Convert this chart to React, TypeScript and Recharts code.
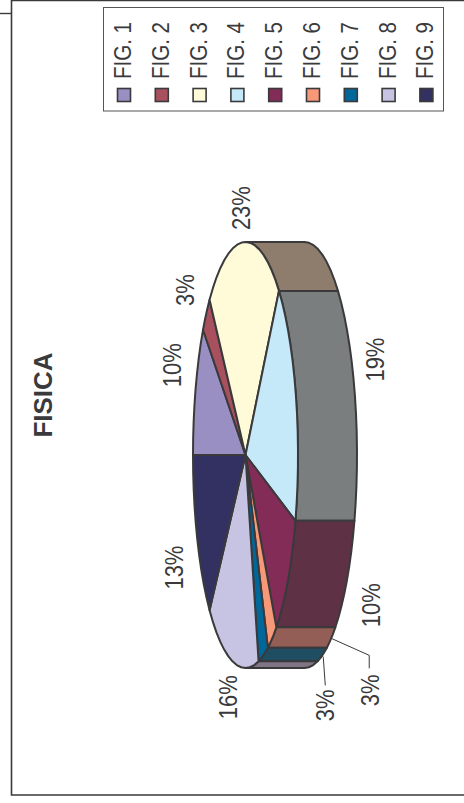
import { Pie, PieChart } from 'recharts';

const FIGURES = ['FIG. 1', 'FIG. 2', 'FIG. 3', 'FIG. 4', 'FIG. 5', 'FIG. 6', 'FIG. 7', 'FIG. 8', 'FIG. 9'];
const PERCENTS = [10, 3, 23, 19, 10, 3, 3, 16, 13];
const TOP_COLORS = ['#9A8FC3', '#A8505E', '#FFFAD7', '#C6E9F9', '#832C57', '#F79878', '#00679A', '#C7C3E2', '#333162'];
const WALL_COLORS = ['#5F5878', '#67323A', '#8E7D6C', '#7A7E7E', '#5E3145', '#935E55', '#1F4E63', '#807585', '#1F1E3C'];

// label placement relative to each slice's rim point
const LABEL_OFFSETS = [[-23, -24], [-21, -24], [-2, -34], [21, -36], [25, 25], [39, 52], [3, 50], [-4, 36], [-23, 28]];
// only the two thin slices get a leader line: rim -> elbow -> end
const LEADERS: Record<number, number[][]> = {
  5: [[38, 17], [38, 30]],
  6: [[1, 2], [3, 30]],
};

const rows = FIGURES.map((name, i) => ({ name, value: PERCENTS[i], top: TOP_COLORS[i], wall: WALL_COLORS[i] }));

const RX = 52.5;
const RY = 213;
const DEPTH = 59;
const INK = '#3a3a3c';
const FONT = '"Liberation Sans", Arial, sans-serif';
// the lettering runs a little taller than Liberation's proportions
const STRETCH = 1.13;

const rad = (a: number) => (a * Math.PI) / 180;

// walks an arc of the flattened disc, in chart angles, with a coarse step like the old plot
function arc(cx: number, cy: number, from: number, to: number, dx = 0) {
  const n = Math.max(1, Math.ceil(Math.abs(to - from) / 5));
  const pts: string[] = [];
  for (let i = 0; i <= n; i++) {
    const a = from + ((to - from) * i) / n;
    pts.push(`${(cx + RX * Math.cos(rad(a)) + dx).toFixed(2)} ${(cy - RY * Math.sin(rad(a))).toFixed(2)}`);
  }
  return pts;
}

function TopSlice(props: any) {
  const { cx, cy, startAngle, endAngle, payload } = props;
  const d = `M${cx} ${cy}L${arc(cx, cy, startAngle, endAngle).join('L')}Z`;
  return <path d={d} fill={payload.top} stroke={INK} strokeWidth={2} strokeLinejoin="round" />;
}

function WallSlice(props: any) {
  const { cx, cy, startAngle, endAngle, payload } = props;
  // only the half facing the viewer has a visible side
  const hi = Math.min(startAngle, 90);
  const lo = Math.max(endAngle, -90);
  if (hi <= lo) return <g />;
  const pts = [...arc(cx, cy, hi, lo), ...arc(cx, cy, lo, hi, DEPTH)];
  return <path d={`M${pts.join('L')}Z`} fill={payload.wall} stroke={INK} strokeWidth={2} strokeLinejoin="round" />;
}

function SliceLabel(props: any) {
  const { cx, cy, midAngle, index } = props;
  const c = Math.cos(rad(midAngle));
  const rimX = cx + RX * c + (c > 0 ? DEPTH : 0);
  const rimY = cy - RY * Math.sin(rad(midAngle));
  const x = rimX + LABEL_OFFSETS[index][0];
  const y = rimY + LABEL_OFFSETS[index][1];
  const leader = LEADERS[index];
  return (
    <g>
      {leader && (
        <polyline
          points={[[0, 0], ...leader].map(([dx, dy]) => `${rimX + dx},${rimY + dy}`).join(' ')}
          fill="none"
          stroke={INK}
          strokeWidth={1}
        />
      )}
      <text
        transform={`translate(${x} ${y}) rotate(-90) scale(1 ${STRETCH})`}
        textAnchor="middle"
        dominantBaseline="central"
        fontFamily={FONT}
        fontSize={22}
        fill={INK}
      >
        {PERCENTS[index]}%
      </text>
    </g>
  );
}

function Backdrop() {
  return (
    <svg width={464} height={803} style={{ position: 'absolute', left: 0, top: 0 }}>
      <path d="M464 0.5H11.5V795H464" fill="none" stroke={INK} strokeWidth={1.6} />
      <line x1={0} y1={13.5} x2={11} y2={13.5} stroke={INK} strokeWidth={1.4} />
      <text
        transform="translate(52 395) rotate(-90)"
        textAnchor="middle"
        fontFamily={FONT}
        fontWeight="bold"
        fontSize={26}
        fill={INK}
      >
        FISICA
      </text>
      <rect x={103.5} y={7.5} width={340} height={103.5} fill="#fff" stroke="#555" strokeWidth={1} />
      {FIGURES.map((name, i) => {
        const x = 124 + i * 37.8;
        return (
          <g key={name}>
            <rect x={x - 6.5} y={88.5} width={13} height={13} fill={TOP_COLORS[i]} stroke={INK} strokeWidth={1.6} />
            <text
              transform={`translate(${x + 7} 79) rotate(-90) scale(1 ${STRETCH})`}
              fontFamily={FONT}
              fontSize={20.5}
              fill={INK}
            >
              {name}
            </text>
          </g>
        );
      })}
    </svg>
  );
}

export default function App() {
  return (
    <div style={{ position: 'absolute', left: 0, top: 0, width: 464, height: 803, background: '#fff' }}>
      <Backdrop />
      <div style={{ position: 'absolute', left: 0, top: 0 }}>
        <PieChart width={464} height={803} margin={{ top: 0, right: 0, bottom: 0, left: 0 }}>
          <Pie
            data={rows}
            dataKey="value"
            nameKey="name"
            cx={245.5}
            cy={455}
            outerRadius={RY}
            startAngle={180}
            endAngle={-180}
            paddingAngle={0}
            shape={WallSlice}
            legendType="none"
            isAnimationActive={false}
          />
          <Pie
            data={rows}
            dataKey="value"
            nameKey="name"
            cx={245.5}
            cy={455}
            outerRadius={RY}
            startAngle={180}
            endAngle={-180}
            paddingAngle={0}
            shape={TopSlice}
            label={SliceLabel}
            labelLine={false}
            isAnimationActive={false}
          />
        </PieChart>
      </div>
    </div>
  );
}
